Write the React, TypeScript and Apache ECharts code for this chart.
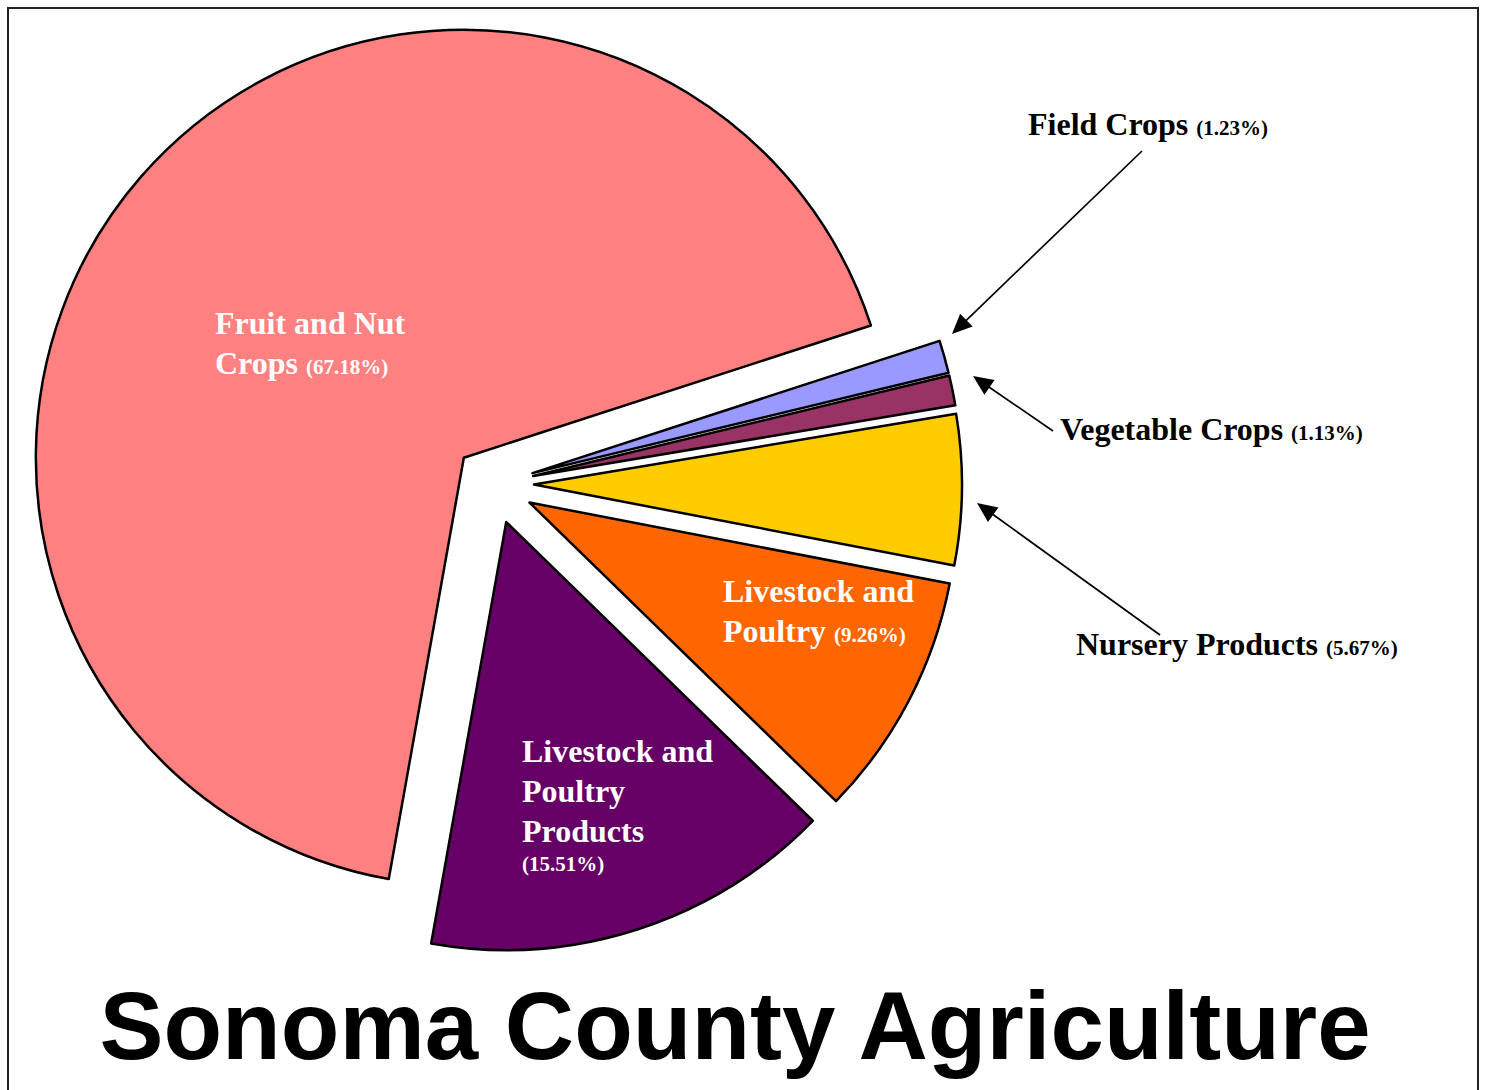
import React, { useEffect, useRef } from 'react';
import * as echarts from 'echarts';

// ---- data ----
const categories: string[] = [
  'Field Crops',
  'Vegetable Crops',
  'Nursery Products',
  'Livestock and Poultry',
  'Livestock and Poultry Products',
  'Fruit and Nut Crops',
];
const shares: number[] = [1.23, 1.13, 5.67, 9.26, 15.51, 67.18];
const nameLines: string[][] = [
  ['Field Crops'],
  ['Vegetable Crops'],
  ['Nursery Products'],
  ['Livestock and', 'Poultry'],
  ['Livestock and', 'Poultry', 'Products'],
  ['Fruit and Nut', 'Crops'],
];
const pctOwnLine: boolean[] = [false, false, false, false, true, false];
const titleText = 'Sonoma County Agriculture';

// ---- styles / layout ----
const colors = ['#9999FF', '#993366', '#FFCC00', '#FF6600', '#660066', '#FF8080'];
const labelColors = ['#000000', '#000000', '#000000', '#FFFFFF', '#FFFFFF', '#FFFFFF'];
const labelPos: number[][] = [
  [1028, 100],
  [1060, 405],
  [1076, 620],
  [723, 567],
  [522, 727],
  [215, 299],
];
const arrows: { from: number[]; to: number[] }[] = [
  { from: [1142, 151], to: [952, 334] },
  { from: [1053, 431], to: [973, 376] },
  { from: [1160, 635], to: [977, 503] },
];

const SERIF = '"Liberation Serif", "Times New Roman", serif';
const SANS = '"Liberation Sans", Arial, sans-serif';

function labelText(i: number): string {
  const lines = nameLines[i].map((l) => `{b|${l}}`);
  const pct = `{s|(${shares[i].toFixed(2)}%)}`;
  if (pctOwnLine[i]) {
    lines.push(pct);
  } else {
    const last = nameLines[i][nameLines[i].length - 1];
    lines[lines.length - 1] = `{b|${last} }` + pct;
  }
  return lines.join('\n');
}

function arrowElements(a: { from: number[]; to: number[] }) {
  const [x1, y1] = a.from;
  const [x2, y2] = a.to;
  const dx = x2 - x1;
  const dy = y2 - y1;
  const len = Math.sqrt(dx * dx + dy * dy);
  const ux = dx / len;
  const uy = dy / len;
  const L = 20;
  const W = 9;
  const bx = x2 - ux * L;
  const by = y2 - uy * L;
  return [
    {
      type: 'line',
      z: 50,
      shape: { x1, y1, x2: bx + ux * 2, y2: by + uy * 2 },
      style: { stroke: '#000', lineWidth: 1.7 },
    },
    {
      type: 'polygon',
      z: 50,
      shape: {
        points: [
          [x2, y2],
          [bx - uy * W, by + ux * W],
          [bx + uy * W, by - ux * W],
        ],
      },
      style: { fill: '#000' },
    },
  ];
}

export default function App() {
  const ref = useRef<HTMLDivElement>(null);

  useEffect(() => {
    if (!ref.current) return;
    const chart = echarts.init(ref.current, undefined, { renderer: 'svg' });

    const labelGraphics = categories.map((_, i) => ({
      type: 'text',
      z: 100,
      x: labelPos[i][0],
      y: labelPos[i][1],
      style: {
        text: labelText(i),
        align: 'left',
        verticalAlign: 'top',
        fill: labelColors[i],
        rich: {
          b: {
            fontFamily: SERIF,
            fontWeight: 'bold',
            fontSize: 32,
            lineHeight: 40,
            verticalAlign: 'bottom',
            fill: labelColors[i],
          },
          s: {
            fontFamily: SERIF,
            fontWeight: 'bold',
            fontSize: 21,
            lineHeight: 29,
            verticalAlign: 'bottom',
            padding: [0, 0, 2, 0],
            fill: labelColors[i],
          },
        },
      },
    }));

    const option: any = {
      animation: false,
      backgroundColor: '#FFFFFF',
      series: [
        {
          type: 'pie',
          center: [494, 484],
          radius: 428,
          startAngle: 18,
          clockwise: true,
          selectedMode: 'multiple',
          selectedOffset: 40,
          avoidLabelOverlap: false,
          label: { show: false },
          labelLine: { show: false },
          emphasis: { disabled: true },
          itemStyle: { borderColor: '#000000', borderWidth: 2.5 },
          select: { itemStyle: { borderColor: '#000000', borderWidth: 2.5 } },
          data: categories.map((name, i) => ({
            name,
            value: shares[i],
            selected: true,
            itemStyle: { color: colors[i] },
            select: { itemStyle: { color: colors[i] } },
          })),
        },
      ],
      graphic: [
        {
          type: 'rect',
          z: 0,
          shape: { x: 8, y: 8, width: 1470, height: 1110 },
          style: { fill: 'none', stroke: '#222222', lineWidth: 2 },
        },
        ...arrows.flatMap(arrowElements),
        ...labelGraphics,
        {
          type: 'text',
          z: 100,
          x: 735,
          y: 1025,
          style: {
            text: titleText,
            align: 'center',
            verticalAlign: 'middle',
            fill: '#000000',
            fontFamily: SANS,
            fontWeight: 'bold',
            fontSize: 96,
          },
        },
      ],
    };

    chart.setOption(option);
    return () => {
      chart.dispose();
    };
  }, []);

  return (
    <div
      ref={ref}
      style={{ position: 'absolute', left: 0, top: 0, width: 1487, height: 1090 }}
    />
  );
}
